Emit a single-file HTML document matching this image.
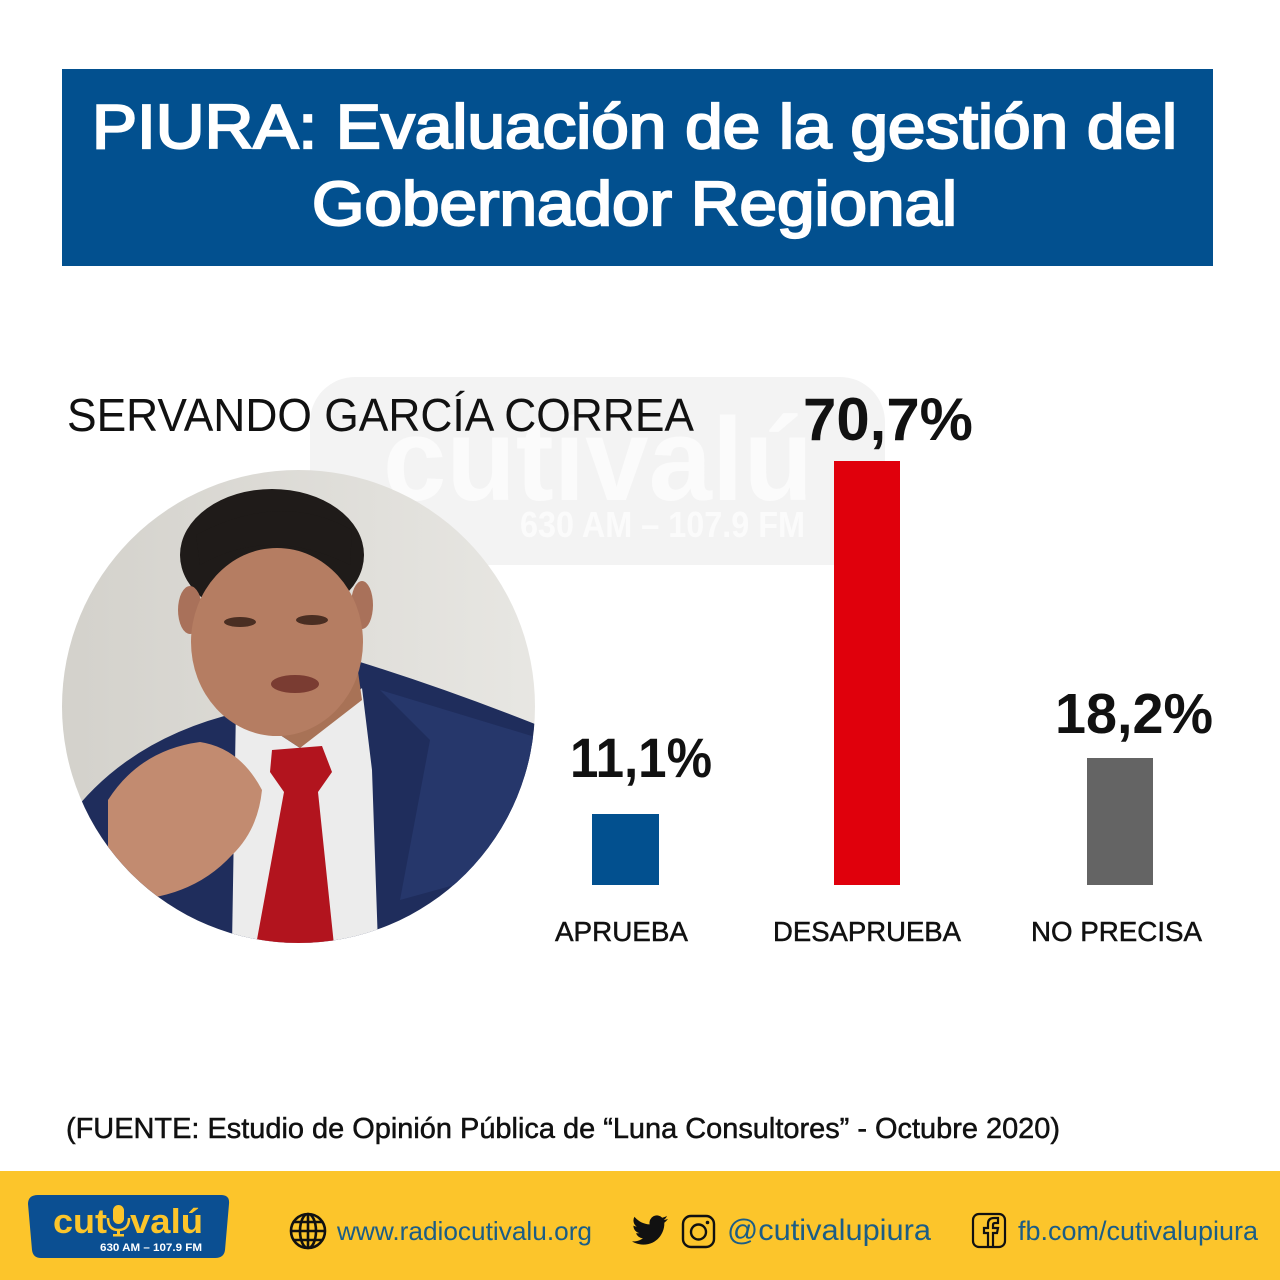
<!DOCTYPE html>
<html>
<head>
<meta charset="utf-8">
<style>
html,body{margin:0;padding:0;background:#fff;}
svg{display:block;}
text{font-family:"Liberation Sans",sans-serif;}
</style>
</head>
<body>
<svg width="1280" height="1280" viewBox="0 0 1280 1280" xmlns="http://www.w3.org/2000/svg">
  <defs>
    <clipPath id="circ"><circle cx="298.5" cy="706.5" r="236.5"/></clipPath>
    <linearGradient id="bgg" x1="0" y1="0" x2="1" y2="0">
      <stop offset="0" stop-color="#d3d1cb"/>
      <stop offset="1" stop-color="#e8e7e3"/>
    </linearGradient>
  </defs>
  <rect x="0" y="0" width="1280" height="1280" fill="#ffffff"/>

  <!-- Header -->
  <rect x="62" y="69" width="1151" height="197" fill="#02508f"/>
  <text x="92" y="148" font-size="62" fill="#ffffff" stroke="#ffffff" stroke-width="2.2" textLength="1085" lengthAdjust="spacingAndGlyphs">PIURA: Evaluación de la gestión del</text>
  <text x="312" y="225" font-size="62" fill="#ffffff" stroke="#ffffff" stroke-width="2.2" textLength="645" lengthAdjust="spacingAndGlyphs">Gobernador Regional</text>

  <!-- Watermark -->
  <rect x="310" y="377" width="575" height="188" rx="45" fill="#f3f3f3"/>
  <text x="383" y="500" font-size="118" font-weight="bold" fill="#fbfbfb" textLength="430" lengthAdjust="spacingAndGlyphs">cutivalú</text>
  <text x="520" y="537" font-size="36" font-weight="bold" fill="#fbfbfb" textLength="285" lengthAdjust="spacingAndGlyphs">630 AM – 107.9 FM</text>

  <!-- Name -->
  <text x="67" y="431" font-size="46" fill="#111111" textLength="627" lengthAdjust="spacingAndGlyphs">SERVANDO GARCÍA CORREA</text>

  <!-- Photo -->
  <g clip-path="url(#circ)">
    <rect x="55" y="460" width="490" height="490" fill="url(#bgg)"/>
    <!-- suit -->
    <path d="M60 830 Q120 740 240 712 L360 662 Q450 690 545 728 L545 950 L55 950 Z" fill="#1f2d5c"/>
    <path d="M380 690 L430 740 L400 900 L545 860 L545 740 Z" fill="#26376b"/>
    <!-- shirt -->
    <path d="M236 706 L300 748 L362 688 L372 770 L378 945 L232 945 Z" fill="#ececec"/>
    <!-- tie -->
    <path d="M272 750 L322 746 L332 772 L318 792 L334 945 L256 945 L284 792 L270 772 Z" fill="#b2141e"/>
    <!-- neck -->
    <path d="M228 660 L355 650 L362 700 L300 748 L236 706 Z" fill="#a87256"/>
    <!-- hair -->
    <ellipse cx="272" cy="555" rx="92" ry="66" fill="#1f1b19"/>
    <!-- ears -->
    <ellipse cx="190" cy="610" rx="12" ry="24" fill="#a9715a"/>
    <ellipse cx="362" cy="605" rx="11" ry="24" fill="#a9715a"/>
    <!-- face -->
    <ellipse cx="277" cy="642" rx="86" ry="94" fill="#b57d62"/>
    <path d="M200 565 Q270 525 350 565 L352 530 Q280 490 196 535 Z" fill="#1f1b19"/>
    <!-- eyes/mouth -->
    <ellipse cx="240" cy="622" rx="16" ry="5" fill="#4a2e22"/>
    <ellipse cx="312" cy="620" rx="16" ry="5" fill="#4a2e22"/>
    <ellipse cx="295" cy="684" rx="24" ry="9" fill="#7a3c32"/>
    <!-- hand -->
    <path d="M108 800 Q140 750 200 742 Q240 748 262 790 Q258 830 232 855 Q200 890 150 898 Q115 890 108 860 Z" fill="#c28b70"/>
  </g>

  <!-- Bars -->
  <rect x="592" y="814" width="67" height="71" fill="#02508f"/>
  <rect x="834" y="461" width="66" height="424" fill="#e0000c"/>
  <rect x="1087" y="758" width="66" height="127" fill="#646464"/>

  <!-- Percent labels -->
  <text x="570" y="777" font-size="56" font-weight="bold" fill="#111" textLength="142" lengthAdjust="spacingAndGlyphs">11,1%</text>
  <text x="803" y="440" font-size="60" font-weight="bold" fill="#111" textLength="170" lengthAdjust="spacingAndGlyphs">70,7%</text>
  <text x="1055" y="733" font-size="57" font-weight="bold" fill="#111" textLength="158" lengthAdjust="spacingAndGlyphs">18,2%</text>

  <!-- Category labels -->
  <text x="555" y="941" font-size="28" fill="#111" stroke="#111" stroke-width="0.5" textLength="133" lengthAdjust="spacingAndGlyphs">APRUEBA</text>
  <text x="773" y="941" font-size="28" fill="#111" stroke="#111" stroke-width="0.5" textLength="188" lengthAdjust="spacingAndGlyphs">DESAPRUEBA</text>
  <text x="1031" y="941" font-size="28" fill="#111" stroke="#111" stroke-width="0.5" textLength="171" lengthAdjust="spacingAndGlyphs">NO PRECISA</text>

  <!-- Source -->
  <text x="66" y="1138" font-size="29" fill="#111" stroke="#111" stroke-width="0.5" textLength="994" lengthAdjust="spacingAndGlyphs">(FUENTE: Estudio de Opinión Pública de “Luna Consultores” - Octubre 2020)</text>

  <!-- Footer -->
  <rect x="0" y="1171" width="1280" height="109" fill="#fcc52b"/>
  <path d="M38 1195 L221 1195 Q230 1195 229 1204 L225 1250 Q224 1258 215 1258 L41 1258 Q33 1258 32 1250 L28 1204 Q28 1195 38 1195 Z" fill="#0b4f92"/>
  <text x="53" y="1233" font-size="34" font-weight="bold" fill="#fcc52b" textLength="54" lengthAdjust="spacingAndGlyphs">cut</text>
  <rect x="113" y="1205" width="11" height="19" rx="5.5" fill="#fcc52b"/>
  <path d="M108 1218 Q108 1230 118.5 1230 Q129 1230 129 1218" stroke="#fcc52b" stroke-width="2.5" fill="none"/>
  <rect x="117" y="1229" width="3" height="6" fill="#fcc52b"/>
  <rect x="113" y="1234" width="11" height="2.5" fill="#fcc52b"/>
  <text x="130" y="1233" font-size="34" font-weight="bold" fill="#fcc52b" textLength="73" lengthAdjust="spacingAndGlyphs">valú</text>
  <text x="100" y="1251" font-size="11" font-weight="bold" fill="#ffffff" textLength="102" lengthAdjust="spacingAndGlyphs">630 AM – 107.9 FM</text>

  <!-- globe -->
  <g stroke="#111" stroke-width="2.6" fill="none">
    <circle cx="308" cy="1231" r="17"/>
    <ellipse cx="308" cy="1231" rx="8" ry="17"/>
    <line x1="308" y1="1214" x2="308" y2="1248"/>
    <line x1="291" y1="1231" x2="325" y2="1231"/>
    <line x1="294" y1="1222" x2="322" y2="1222"/>
    <line x1="294" y1="1240" x2="322" y2="1240"/>
  </g>
  <text x="337" y="1240" font-size="26" fill="#1b5d86" textLength="255" lengthAdjust="spacingAndGlyphs">www.radiocutivalu.org</text>

  <!-- twitter -->
  <g transform="translate(632,1212) scale(1.5)">
    <path fill="#111" d="M23.953 4.57a10 10 0 01-2.825.775 4.958 4.958 0 002.163-2.723c-.951.555-2.005.959-3.127 1.184a4.92 4.92 0 00-8.384 4.482C7.690 8.095 4.067 6.130 1.640 3.162a4.822 4.822 0 00-.666 2.475c0 1.710.870 3.213 2.188 4.096a4.904 4.904 0 01-2.228-.616v.06a4.923 4.923 0 003.946 4.827 4.996 4.996 0 01-2.212.085 4.936 4.936 0 004.604 3.417 9.867 9.867 0 01-6.102 2.105c-.39 0-.779-.023-1.170-.067a13.995 13.995 0 007.557 2.209c9.053 0 13.998-7.496 13.998-13.985 0-.21 0-.42-.015-.63A9.935 9.935 0 0024 4.590z"/>
  </g>
  <!-- instagram -->
  <g stroke="#111" stroke-width="2.4" fill="none">
    <rect x="683" y="1216" width="31" height="31" rx="8"/>
    <circle cx="698.5" cy="1232" r="7.5"/>
  </g>
  <circle cx="707.5" cy="1222.5" r="1.8" fill="#111"/>
  <text x="727" y="1240" font-size="30" fill="#1b5d86" textLength="204" lengthAdjust="spacingAndGlyphs">@cutivalupiura</text>

  <!-- facebook -->
  <g stroke="#111" stroke-width="2.2" fill="none">
    <rect x="973" y="1214" width="32" height="33" rx="6"/>
    <path d="M988 1247 V1233 H984 V1228 H988 V1224 Q988 1218 994 1218 H998 V1223 H995 Q993 1223 993 1225 V1228 H998 L997 1233 H993 V1247"/>
  </g>
  <text x="1018" y="1240" font-size="27" fill="#1b5d86" textLength="240" lengthAdjust="spacingAndGlyphs">fb.com/cutivalupiura</text>
</svg>
</body>
</html>
